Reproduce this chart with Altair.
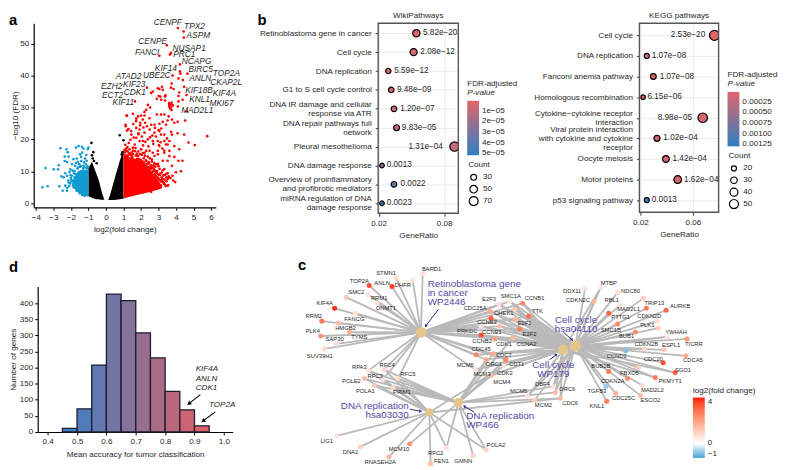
import math
import altair as alt
import pandas as pd

FONT = "Liberation Sans"
INK = "#1f1f1f"

# ---------- panel a: volcano ----------
red_x = [4.1,4.43,4.44,3.47,3.71,3.65,3.05,4.22,4.22,4.25,4.65,3.8,4.14,4.39,3.75,2.34,2.96,3.05,3.2,3.24,3.71,3.86,4.46,2.67,2.58,4.18,4.14,4.6,4.37,1.66,3.01,3.15,3.37,3.37,
 3.6,3.68,3.75,3.82,3.62,3.7,3.78,3.66,3.74,3.6,2.39,2.52,2.2,2.3,1.2,1.54,2.9,3.1,3.39,4.14,4.1,4.6,4.52,1.17,2.0,2.2,1.83,1.73,2.1,1.96,2.24,2.58,2.77,2.9,3.14,3.33,3.58,3.77,3.52,3.24,3.05,3.43,3.9,4.09,
 1.13,1.2,1.45,1.73,1.92,2.2,2.49,2.77,3.05,3.14,3.33,3.77,4.09,4.46,4.71,5.07,5.78,1.73,1.92,2.11,1.64,2.39,2.67,2.96,3.33,3.62,3.52,3.05,2.49,2.67,2.01,2.2,1.54,1.36,1.83,2.96,3.33,3.9,4.18,
 3.9,4.14,4.37,3.77,3.52,3.99,4.28,3.52,3.95,3.24,3.14,3.52,2.77,2.58,3.33,2.96,3.24,3.52,2.77,2.96,3.33,3.62,3.62,2.3,2.0,1.54,1.83,
 1.08,1.15,1.25,1.32,1.42,1.5,1.62,1.7,1.78,1.88,1.98,2.08,2.16,2.28,2.36,2.44,2.55,2.62,2.72,2.82,2.88,3.0,3.08,3.18,3.28,3.38,3.45,3.58,3.68,3.8,
 1.1,1.22,1.3,1.4,1.58,1.68,1.85,2.05,2.12,2.25,2.42,2.52,2.7,2.85,3.02,3.12,3.22,3.42,3.48,3.72,
 1.05,1.18,1.35,1.48,1.6,1.75,1.9,2.02,2.18,2.32,2.46,2.6,2.75,2.92,3.1,3.2,3.3,3.46,
 1.12,1.28,1.44,1.56,1.72,1.86,1.95,2.14,2.34,2.48,2.65,2.8,3.0,3.15,
 2.52,2.64,2.78,2.9,3.04,3.16,3.3,3.4,2.36,2.58,2.7,2.84,2.98,3.1,3.26,3.36,3.55,2.46,2.6,2.74,2.88,3.02,3.18,3.34,2.3,2.42,2.56,2.68,2.82,2.94,
 1.06,1.16,1.24,1.34,1.46,1.54,1.66,1.76,1.84,1.94,2.04,2.1,2.22,2.38,2.5,2.62,2.76,2.86,3.06,3.24,3.44,3.6,3.84]
red_y = [54.9,53.8,51.9,49.5,47.1,46.6,46.2,43.5,41.3,40.6,40.6,40,39.1,38.6,37.5,36.2,36,35.8,36.5,35.5,36.2,35.8,36.5,35,34.5,34.7,33.6,33.9,32.4,31.9,33.6,32.4,33.4,32.2,
 31.4,31.0,31.5,30.6,30.2,30.0,30.7,29.6,29.2,30.8,30.8,30,28.6,29.3,27.4,28,32.7,33.4,33.8,31.9,30.3,28.8,25.9,27.5,27.5,27.5,27.2,26.5,26.2,25.2,25.2,24.6,24.6,27.8,27.8,27.8,27.2,26.2,25.9,25.5,24.9,24.6,25.2,25.5,
 24.1,22.8,21.5,23.6,23.1,22.1,23.1,22.1,22.6,21.5,21.5,21.5,21.9,21.5,19,18.2,21,20.5,19.5,19.5,18.4,20,19.5,19.5,19.5,19.5,18.4,17.9,16.4,15.8,16.9,15.8,16.4,15.3,14.8,15.3,15.8,17.9,16.9,
 14.5,13.3,13.3,11.7,9.4,9.7,10,7.6,6.6,7.6,5.5,5.5,4.5,3.5,10.7,12.3,13.3,13.3,14.8,16.4,16.4,16.4,14.8,16.4,16.9,15.4,14.8,
 15.9,16.4,14.9,15.6,15.1,14.3,13.6,14.9,13.9,13.8,13.6,13.1,14.1,13.4,12.3,12.9,11.4,13.1,11.9,11.4,9.9,11.6,9.2,9.6,8.7,8.9,8.1,8.4,7.9,8.6,
 18.3,17.6,18.9,19.9,20.6,17.3,21.9,20.9,18.1,19.2,17.8,20.7,18.6,20.9,18.2,19.1,17.1,18.4,20.3,22.4,
 15.1,14.9,13.9,14.7,13.2,12.9,12.6,12.3,12.7,12.1,11.3,11.1,10.4,10.1,8.9,7.3,6.4,6.9,
 24.6,23.2,22.6,24.8,25.7,21.6,24.4,23.7,24.1,26.6,21.2,23.6,22.9,23.4,
 10.6,9.8,9.1,8.2,7.4,6.7,6.1,5.4,11.2,10.9,9.9,8.6,7.9,7.1,6.6,5.9,5.6,12.6,11.7,10.6,9.7,8.8,8.1,7.4,13.2,12.4,11.9,11.2,10.1,9.2,
 16.7,17.1,16.2,16.9,15.9,17.4,16.3,15.5,16.2,15.4,15.1,15.7,14.9,14.6,14.1,13.7,12.6,12.2,10.8,10.3,9.2,7.9,7.1]
red_env_x = [1.0,1.3,1.6,1.9,2.2,2.5,2.8,3.0,3.2]
red_env_top = [15,14.5,14,13.5,12.5,10.5,8.5,7,5.5]
red_env_bot = [1.5,1.9,2.3,2.7,3.1,3.5,4,4.3,4.7]

blue_x = [-3.63,-3.33,-3.45,-2.98,-2.69,-2.73,-2.6,-2.26,-2.18,-2.35,-2.13,-2.35,-2.22,-1.71,-1.56,-1.37,-1.28,-1.04,-1.0,-1.47,-1.19,-1.85,-1.66,-1.41,-1.53,-1.94,-1.75,-2.03,-2.32,-2.54,-2.41,-2.22,-2.03,-2.66,-2.47,-2.22,-2.32,-2.13,-1.98,-1.79,-1.79,-1.28,-1.15,
 -1.6,-1.35,-1.12,-1.25,-1.48,-1.7,-1.9,-2.08,-1.1,-1.42,-1.62,-1.82,-2.0,-2.15,-1.3,-1.05,-1.2,
 -1.96,-2.04,-1.88,-1.72,-1.58,-1.44,-2.1,-1.84,-1.68,-1.5,-1.36,-1.22,-1.08,-2.2,-1.95]
blue_y = [5,5.3,11,10.6,11.9,10.6,17.2,16.9,16,14.6,14.6,13.2,12.9,17.4,17.9,17.7,17.1,16.9,17.4,15.3,14,13.8,14,13.2,12.2,12.2,11.7,10.6,9.4,8.4,8.1,8.6,8.8,5.3,3.9,3.9,5.5,6.5,7.5,8.1,10.1,11.7,12.2,
 12.9,15.9,15.1,12.8,11.4,12.6,10.2,9.8,13.3,14.5,10.9,9.4,7.9,7.1,10.9,11.6,11.2,
 6.9,6.2,7.1,9.1,11.2,11.6,5.4,4.9,3.9,3.1,2.6,2.3,10.9,4.8,8.6]
blue_env_x = [-1.95,-1.8,-1.6,-1.4,-1.2,-1.0]
blue_env_top = [6.0,8,10,10.5,10.5,10.5]
blue_env_bot = [5.5,4.5,3.4,2.7,2.3,2.0]

black_x = [0.79,-0.83,1.0,-0.72,0.95,0.9,-0.53,-0.75,-0.8,-0.68]
black_y = [21.3,18.9,19.7,16,16,15.3,12.5,14,15,13.2]
black_r_x = [0.13,0.23,0.41,0.6,0.79,0.9,1.0]
black_r_top = [1.0,2.4,6,9.7,13.3,15,16.4]
black_r_bot = [1.0,1.0,1.0,1.1,1.2,1.3,1.4]
black_l_x = [-1.0,-0.9,-0.8,-0.7,-0.6,-0.5,-0.4,-0.3,-0.2,-0.1]
black_l_top = [11,12,13,11.5,10,8.5,7,4.8,2.8,1.2]
black_l_bot = [2.2,1.9,1.7,1.5,1.3,1.2,1.2,1.1,1.1,1.1]

volcano_names = ["CENPF","TPX2","ASPM","CENPE","NUSAP1","FANCI","PRC1","NCAPG","KIF14","BIRC5","TOP2A","ATAD2","UBE2C","ANLN","CKAP2L","EZH2","KIF23","KIF18B","KIF4A","ECT2","CDK1","KNL1","MKI67","KIF11","MAD2L1"]
volcano_lx = [2.73,4.46,4.6,1.85,3.8,1.66,3.84,4.33,2.79,4.71,6.1,0.56,2.11,4.75,5.95,-0.28,0.98,4.52,6.1,-0.23,1.02,4.75,5.91,0.38,4.29]
volcano_ly = [56.7,55.5,52.7,50.8,48.7,47.4,46.6,44.5,42.5,42,40.8,39.8,40.2,39.3,38.1,36.6,37.3,35.5,34.4,33.9,34.8,32.6,31.4,31.7,29.2]

# ---------- panel b ----------
wiki_terms = ["Retinoblastoma gene in cancer","Cell cycle","DNA replication","G1 to S cell cycle control","DNA  IR damage and cellular|response via ATR","DNA repair pathways full|network","Pleural mesothelioma","DNA damage response","Overview of proinflammatory|and profibrotic mediators","miRNA regulation of DNA|damage response"]
wiki_ratio = [.0545,.052,.0288,.0315,.034,.0364,.0895,.023,.034,.023]
wiki_count = [46,44,24,26,28,30,76,19,28,19]
wiki_fdr = [0.2e-5,0.3e-5,0.3e-5,0.4e-5,0.5e-5,0.7e-5,0.8e-5,2.5e-5,3.8e-5,5.15e-5]
wiki_text = ["5.82e−20","2.08e−12","5.59e−12","9.48e−09","1.20e−07","9.83e−05","1.31e−04","0.0013","0.0022","0.0023"]
wiki_text_x = [.0606,.0582,.0342,.0367,.0397,.0412,.0473,.0273,.04,.0273]

kegg_terms = ["Cell cycle","DNA replication","Fanconi anemia pathway","Homologous recombination","Cytokine−cytokine receptor|interaction","Viral protein interaction|with cytokine and cytokine|receptor","Oocyte meiosis","Motor proteins","p53 signaling pathway"]
kegg_ratio = [.0764,.0248,.0298,.022,.0675,.0326,.0394,.0484,.0248]
kegg_count = [58,20,24,17,54,26,31,38,20]
kegg_fdr = [.00002,.00004,.00004,.00005,.00008,.00009,.00010,.00011,.00128]
kegg_text = ["2.53e−20","1.07e−08","1.07e−08","6.15e−06","8.98e−05","1.02e−04","1.42e−04","1.62e−04","0.0013"]
kegg_text_x = [.0431,.0286,.0346,.0253,.0331,.0374,.0444,.0532,.0286]

# ---------- panel d ----------
bin_lo = [.45,.5,.55,.6,.65,.7,.75,.8,.85,.9]
bin_hi = [.5,.55,.6,.65,.7,.75,.8,.85,.9,.95]
bin_n = [11,72,208,428,408,308,230,126,69,19]
d_text = ["KIF4A","ANLN","CDK1","TOP2A"]
d_text_x = [.904,.904,.904,.949]
d_text_y = [196,166,137,83]
d_arrow_x = [.92,.971]
d_arrow_y = [116,62.6]
d_arrow_x2 = [.881,.929]
d_arrow_y2 = [88,34]

# ---------- panel c ----------
hub_key = ["R","D","W","C","H"]
hub_x = [424.3,432.7,462,568,580.3]
hub_y = [333.3,414.3,404.3,351,347]
hub_size = [118,72,90,105,130]

node_x = [426,399,416,372,395,349,371,380,358,337,324,341,352,323,339,327,
 371,387,386,401,367,377,396,339,363,413,392,450,434,477,490,
 503,514,527,494,495,519,520,533,524,485,504,485,499,517,480,497,490,510,479,508,495,532,558,560,565,539,
 590,606,599,623,649,625,652,672,614,663,664,623,641,673,693,650,670,631,692,669,681,644,661,614,611,633,648,621,646,612]
node_y = [274,278,281,286,287,298,295,304,314,309,322,324,333,337,345,350,
 372,371,381,380,380,387,389,438,449,446,459,450,466,458,452,
 305,302,304,312,319,310,320,317,330,327,327,336,340,339,356,355,361,361,371,367,377,398,388,394,400,402,
 289,288,302,293,299,306,309,311,314,322,329,325,333,338,340,350,351,352,357,364,374,369,379,373,388,380,387,395,397,403]
node_lfc = [.7,.8,.7,3.8,4,1.3,.7,.8,.8,4.2,3,1.5,1.8,2.5,.8,.9,
 .7,.8,.7,.9,1.5,1.2,1,.6,1.1,2.5,1.7,.7,1.5,1,1,
 .7,.6,2.7,2,3.6,1.3,1.6,3.2,3,.6,1.5,3.8,2.3,1.7,2.8,2,2,2.8,.7,.6,1.7,.7,.7,1.6,1.7,1.2,
 .7,.6,1.7,.7,1.1,.7,3,3.4,3.5,.7,1.2,2.7,2.6,.6,2.5,1,1.2,-1,2,3.8,3.6,1.1,3,3,-.8,2.7,.7,1.8,1.6,3]
node_hubs = ["R"]*16 + ["RDW","RDW","RDW","RDW","DW","DW","DW","D","D","W","D","DW","D","W","DW"] + \
 ["RCH","RCH","RCH","RCH","RCH","RCH","RCH","RCH","RCH","RCH","RCH","RCH","RCH","RCW","RCH","RCW","RCW","RW","RCH","DWC","WCH","CH","WCH","WCH","DWCH"] + \
 ["H","H","HC","H","H","H","H","H","H","H","H","H","H","H","HC","H","HC","H","H","H","H","HC","H","HC","H","H","H","H","H","H","H"]

label_text = ["BARD1","STMN1","TOP2A","ANLN","DHFR","SMC2","RRM1","DNMT1","KIF4A","FANCG","RRM2","HMGB2","PLK4","TYMS","SAP30","SUV39H1",
 "RPA3","RFC4","RFC3","RFC5","POLE2","POLA1","PRIM1","LIG1","DNA2","MCM10","RNASEH2A","RFC2","FEN1","GMNN","POLA2",
 "E2F3","SMC1A","CCNB1","CDC25A","CHEK1","TTK","E2F1","CCNE2","E2F2","CCNE1","PRKDC","CCNB2","CDK1","CCNA2","CDC45","CDC7","ORC1","CDT1","MCM6","MCM3","CDK2","MCM4","MCM5","DBF4","ORC6","CDC6","MCM2",
 "DDX11","MTBP","CDKN2C","NDC80","RBL1","MAD2L1","TRIP13","AURKB","PTTG1","CDKN2D","PLK1","SMC1B","BUB1","YWHAH","TICRR","CDKN2B","ESPL1","CCND2","CDCA5","CDC20","SGO1","FBXO5","PKMYT1","BUB1B","CDKN2A","MAD2L2","TGFB3","CDC25C","ESCO2","KNL1"]
label_x = [435,389,362,385,406,359,382,389,327,357,316,348,315,362,337,322,
 362,390,378,411,354,368,405,329,353,402,383,439,445,467,500,
 493,515,539,479,508,542,529,491,534,496,471,486,508,531,485,508,498,521,469,486,509,506,523,547,572,575,548,
 577,614,583,636,617,634,660,686,626,655,653,616,632,682,700,652,677,622,699,659,689,635,676,606,618,658,602,629,656,602]
label_y = [269,273,281,283,286,293,299,309,304,320,317,329,332,338,340,357,
 368,366,377,375,383,393,394,443,454,451,464,455,463,463,447,
 300,297,299,309,314,312,324,323,335,333,332,342,345,345,350,356,365,365,366,375,374,384,393,386,391,405,407,
 292,283,301,292,301,310,304,307,318,317,326,331,337,333,345,345,346,357,361,360,371,374,383,367,383,392,393,400,402,408]

hubtext = ["Retinoblastoma gene","in cancer","WP2446","hsa03030","DNA replication","WP466","DNA replication","Cell cycle","hsa04110","Cell cycle","WP179"]
hubtext_x = [431,431,431,412,412,470,470,581,581,558,558]
hubtext_y = [285,294,303,417,408,427,418,321,330,366,375]
hubtext_align = ["left","left","left","right","right","left","left","center","center","center","center"]
c_arrow_x = [442,413,478,554,568]
c_arrow_y = [310,411,414,361,333]
c_arrow_x2 = [429,424,468,561,577]
c_arrow_y2 = [327,413,408,356,341]

RED = "#ff0000"
BLUE = "#0f9bd0"


def letter(txt, x, y):
    return alt.Chart(pd.DataFrame({"t": [txt]})).mark_text(
        fontSize=15, fontWeight="bold", align="left", baseline="alphabetic", color="black", font=FONT
    ).encode(text="t:N", x=alt.value(x), y=alt.value(y))


def spacer(w):
    return alt.Chart(pd.DataFrame({"v": [0]})).mark_point(opacity=0).encode(
        x=alt.value(0), y=alt.value(0)).properties(width=w, height=1)


def angle_of(x, y, x2, y2, sx, sy):
    return [(math.degrees(math.atan2((b - a) * sx, -(d - c) * sy))) % 360 for a, b, c, d in zip(x, x2, y, y2)]


# ---- a ----
ax_x = alt.X("x:Q", scale=alt.Scale(domain=[-4.12, 6.27], nice=False, zero=False),
             axis=alt.Axis(values=list(range(-4, 7)), title="log2(fold change)", grid=False, tickSize=3, labelFlush=False,
                           domainColor="black", domainWidth=1.2, tickColor="black", format="d",
                           labelExpr="replace(datum.label,'-','−')", titlePadding=5, labelPadding=3))
ax_y = alt.Y("y:Q", scale=alt.Scale(domain=[-1.3, 56.4], nice=False, zero=False),
             axis=alt.Axis(values=[0, 10, 20, 30, 40, 50], title="−log10 (FDR)", grid=False, tickSize=3, minExtent=0,
                           domainColor="black", domainWidth=1.2, tickColor="black", titlePadding=0))
ax_y2 = alt.Y2("y2:Q")


def env(xs, top, bot, color):
    return alt.Chart(pd.DataFrame({"x": xs, "y": top, "y2": bot})).mark_area(color=color, opacity=1).encode(x=ax_x, y=ax_y, y2=ax_y2)


def pts(xs, ys, color):
    return alt.Chart(pd.DataFrame({"x": xs, "y": ys})).mark_circle(color=color, size=7, opacity=1).encode(x=ax_x, y=ax_y)


panel_a = alt.layer(
    env(black_l_x, black_l_top, black_l_bot, "black"),
    env(black_r_x, black_r_top, black_r_bot, "black"),
    env(red_env_x, red_env_top, red_env_bot, RED),
    env(blue_env_x, blue_env_top, blue_env_bot, BLUE),
    pts(black_x, black_y, "black"),
    pts(blue_x, blue_y, BLUE),
    pts(red_x, red_y, RED),
    alt.Chart(pd.DataFrame({"x": volcano_lx, "y": volcano_ly, "t": volcano_names})).mark_text(
        fontSize=8.4, fontStyle="italic", align="left", color=INK, font=FONT).encode(x=ax_x, y=ax_y, text="t:N"),
    letter("a", -25, 2),
).properties(width=184, height=186)


# ---- b ----
LABEL_SHIFT = {"condition": [{"test": "length(split(datum.value,'|'))==2", "value": -4.7},
                             {"test": "length(split(datum.value,'|'))==3", "value": -9}], "value": 0}


def dotplot(terms, ratio, count, fdr, text, textx, domain, ticks, title, width, height, pad,
            fdr_domain, fdr_vals, fdr_labels, size_dom, size_rng, size_vals, lx, ly1, ly2, extra=None):
    df = pd.DataFrame({"term": terms, "ratio": ratio, "count": count, "fdr": fdr, "txt": text, "tx": textx})
    x = alt.X("ratio:Q", scale=alt.Scale(domain=domain, nice=False, zero=False),
              axis=alt.Axis(values=ticks, format=".2f", title="GeneRatio", grid=True, gridColor="#ebebeb", labelOverlap=False,
                            labelFlush=False, tickSize=3, tickColor="#333", domain=False, labelPadding=3, titlePadding=5))
    y = alt.Y("term:N", sort=terms, scale=alt.Scale(type="point", padding=pad),
              axis=alt.Axis(title=None, grid=True, gridColor="#ebebeb", tickSize=3, tickColor="#333", domain=False,
                            labelExpr="split(datum.label,'|')", labelLimit=220, labelPadding=4, labelLineHeight=9.3,
                            labelOffset=LABEL_SHIFT))
    dots = alt.Chart(df).mark_circle(stroke="black", strokeWidth=1.2, opacity=1, clip=True).encode(
        x=x, y=y,
        color=alt.Color("fdr:Q", scale=alt.Scale(domain=fdr_domain, range=["#2f7ec2", "#e0656b"], nice=False, interpolate="rgb"),
                        legend=alt.Legend(title=["FDR-adjusted", " "], orient="none", legendX=lx, legendY=ly1,
                                          values=fdr_vals, labelExpr=fdr_labels, gradientLength=55, gradientThickness=12,
                                          titleFontWeight="normal", titleFontSize=8.2, labelFontSize=8.2, titlePadding=3,
                                          labelOffset=3, gradientStrokeWidth=0)),
        size=alt.Size("count:Q", scale=alt.Scale(domain=size_dom, range=size_rng, nice=False),
                      legend=alt.Legend(title="Count", orient="none", legendX=lx + 1, legendY=ly2, values=size_vals,
                                        symbolFillColor="white", symbolStrokeColor="black", symbolStrokeWidth=1.2,
                                        titleFontWeight="normal", titleFontSize=8.2, labelFontSize=8.2, symbolType="circle",
                                        titlePadding=3, labelOffset=4, clipHeight=11, rowPadding=1)),
    )
    txt = alt.Chart(df).mark_text(fontSize=8.3, align="left", color=INK, font=FONT).encode(
        x=alt.X("tx:Q", scale=alt.Scale(domain=domain, nice=False, zero=False)), y=y, text="txt:N")
    frame = alt.Chart(pd.DataFrame({"v": [0]})).mark_rect(fill=None, stroke="#555555", strokeWidth=1.4).encode(
        x=alt.value(0), x2=alt.value(width), y=alt.value(0), y2=alt.value(height))
    head = alt.Chart(pd.DataFrame({"t": [title]})).mark_text(fontSize=8.2, color=INK, font=FONT, baseline="middle").encode(
        text="t:N", x=alt.value(width / 2), y=alt.value(-7.5))
    pval = alt.Chart(pd.DataFrame({"t": ["P-value"]})).mark_text(
        fontSize=8.2, fontStyle="italic", color=INK, font=FONT, align="left", baseline="top").encode(
        text="t:N", x=alt.value(lx), y=alt.value(ly1 + 9.5))
    layers = [dots, txt, frame, head, pval]
    if extra is not None:
        layers.append(extra)
    return alt.layer(*layers).properties(width=width, height=height)


panel_b1 = dotplot(wiki_terms, wiki_ratio, wiki_count, wiki_fdr, wiki_text, wiki_text_x,
                   [.0195, .093], [.02, .04, .06, .08], "WikiPathways", 81, 192, .53,
                   [5.2e-5, 0.07e-5], [1e-5, 2e-5, 3e-5, 4e-5, 5e-5],
                   "format(datum.value*1e5,'d')+'e−05'",
                   [19, 76], [22, 90], [30, 50, 70], 90, 57, 139,
                   extra=letter("b", -122, 2))
panel_b2 = dotplot(kegg_terms, kegg_ratio, kegg_count, kegg_fdr, kegg_text, kegg_text_x,
                   [.0192, .0796], [.02, .04, .06], "KEGG pathways", 80, 191, .59,
                   [.0013, .00002], [.00025, .0005, .00075, .001, .00125],
                   "format(datum.value,'.5f')",
                   [17, 58], [20, 100], [20, 30, 40, 50], 89, 48, 130)

# ---- d ----
d_x = alt.X("lo:Q", scale=alt.Scale(domain=[.366, 1.03], nice=False, zero=False),
            axis=alt.Axis(values=[.4, .5, .6, .7, .8, .9, 1.0], format=".1f", title="Mean accuracy for tumor classification",
                          grid=False, tickSize=3, domainColor="black", domainWidth=1.2, tickColor="black", labelFlush=False,
                          labelPadding=3, titlePadding=6))
d_y = alt.Y("n:Q", scale=alt.Scale(domain=[0, 452], nice=False),
            axis=alt.Axis(values=list(range(0, 401, 50)), title="Number of genes", grid=False, tickSize=3, minExtent=0,
                          domainColor="black", domainWidth=1.2, tickColor="black", titlePadding=2))
d_bars = alt.Chart(pd.DataFrame({"lo": bin_lo, "hi": bin_hi, "n": bin_n})).mark_rect(stroke="#1c1c2e", strokeWidth=1.3).encode(
    x=d_x, x2=alt.X2("hi:Q"), y=d_y, y2=alt.Y2(datum=0),
    color=alt.Color("lo:Q", scale=alt.Scale(domain=[.45, .9], range=["#3d80c3", "#df6068"], interpolate="rgb"), legend=None))
d_txt = alt.Chart(pd.DataFrame({"lo": d_text_x, "n": d_text_y, "t": d_text})).mark_text(
    fontSize=8.2, fontStyle="italic", align="left", color=INK, font=FONT).encode(x=d_x, y=d_y, text="t:N")
d_adf = pd.DataFrame({"x0": d_arrow_x, "y0": d_arrow_y, "lo": d_arrow_x2, "n": d_arrow_y2})
d_adf["ang"] = angle_of(d_arrow_x, d_arrow_y, d_arrow_x2, d_arrow_y2, 197 / .664, -147 / 452)
d_rule = alt.Chart(d_adf).mark_rule(color="black", strokeWidth=1.1).encode(x=d_x, y=d_y, x2="x0:Q", y2="y0:Q")
d_head = alt.Chart(d_adf).mark_point(shape="triangle-up", filled=True, color="black", opacity=1, size=22).encode(
    x=d_x, y=d_y, angle=alt.Angle("ang:Q", scale=None))
panel_d = alt.layer(d_bars, d_txt, d_rule, d_head, letter("d", -29, -15)).properties(width=197, height=147)

# ---- c ----
c_xs = alt.Scale(domain=[296, 770], nice=False, zero=False)
c_ys = alt.Scale(domain=[469, 287], nice=False, zero=False)
cx = alt.X("x:Q", scale=c_xs, axis=None)
cy = alt.Y("y:Q", scale=c_ys, axis=None)
hub_pos = dict(zip(hub_key, zip(hub_x, hub_y)))
edge_rows = []
for nx, ny, hs in zip(node_x, node_y, node_hubs):
    for h in hs:
        edge_rows.append({"x": nx, "y": ny, "x2": hub_pos[h][0], "y2": hub_pos[h][1]})
c_edges = alt.Chart(pd.DataFrame(edge_rows)).mark_rule(color="#b9b9b9", strokeWidth=1.8).encode(x=cx, y=cy, x2="x2:Q", y2="y2:Q")
c_nodes = alt.Chart(pd.DataFrame({"x": node_x, "y": node_y, "lfc": node_lfc})).mark_circle(size=26, opacity=1).encode(
    x=cx, y=cy,
    color=alt.Color("lfc:Q", scale=alt.Scale(domain=[-1.4, 0, 4.44], range=["#3ea2d6", "#ffffff", "#f7170a"], interpolate="lab"),
                    legend=alt.Legend(title="log2(fold change)", orient="none", legendX=403, legendY=102, values=[-1, 0, 4],
                                      labelExpr="replace(datum.label,'-','−')", gradientLength=61, gradientThickness=12,
                                      titleFontWeight="normal", titleFontSize=8.2, labelFontSize=8.2, titlePadding=2,
                                      labelOffset=3, gradientStrokeWidth=0)))
c_hubs = alt.Chart(pd.DataFrame({"x": hub_x, "y": hub_y, "s": hub_size})).mark_circle(color="#e6c58c", opacity=1).encode(
    x=cx, y=cy, size=alt.Size("s:Q", scale=None, legend=None))
c_labels = alt.Chart(pd.DataFrame({"x": label_x, "y": label_y, "t": label_text})).mark_text(
    fontSize=5.9, color=INK, font=FONT).encode(x=cx, y=cy, text="t:N")
c_htxt = []
for al in ["left", "right", "center"]:
    sub = [(t, a, b) for t, a, b, g in zip(hubtext, hubtext_x, hubtext_y, hubtext_align) if g == al]
    c_htxt.append(alt.Chart(pd.DataFrame(sub, columns=["t", "x", "y"])).mark_text(
        fontSize=10, color="#5247a5", align=al, font=FONT).encode(x=cx, y=cy, text="t:N"))
c_adf = pd.DataFrame({"x": c_arrow_x2, "y": c_arrow_y2, "x0": c_arrow_x, "y0": c_arrow_y})
c_adf["ang"] = angle_of(c_arrow_x, c_arrow_y, c_arrow_x2, c_arrow_y2, 1, 1)
c_rule = alt.Chart(c_adf).mark_rule(color="#2f2a8a", strokeWidth=1).encode(x=cx, y=cy, x2="x0:Q", y2="y0:Q")
c_head = alt.Chart(c_adf).mark_point(shape="triangle-up", filled=True, color="#2f2a8a", opacity=1, size=12).encode(
    x=cx, y=cy, angle=alt.Angle("ang:Q", scale=None))
panel_c = alt.layer(c_edges, c_nodes, c_hubs, c_labels, *c_htxt, c_rule, c_head, letter("c", 4, -17)).resolve_scale(
    size="independent", color="independent").properties(width=474, height=182)

ind = dict(color="independent", size="independent")
top = alt.hconcat(panel_a, spacer(164), panel_b1, spacer(183), panel_b2, spacing=0, bounds="flush").resolve_scale(**ind)
bottom = alt.hconcat(spacer(4), panel_d, spacer(62), panel_c, spacing=0, bounds="flush").resolve_scale(**ind)
chart = alt.vconcat(top, bottom, spacing=19).resolve_scale(**ind).properties(padding=0).configure(font=FONT).configure_view(
    stroke=None).configure_axis(
    labelFontSize=8.2, titleFontSize=8.2, labelColor=INK, titleColor=INK, titleFontWeight="normal", labelFont=FONT, titleFont=FONT
).configure_legend(labelColor=INK, titleColor=INK, labelFont=FONT, titleFont=FONT)

chart.save("out.html", embed_options={"renderer": "svg", "actions": False})
